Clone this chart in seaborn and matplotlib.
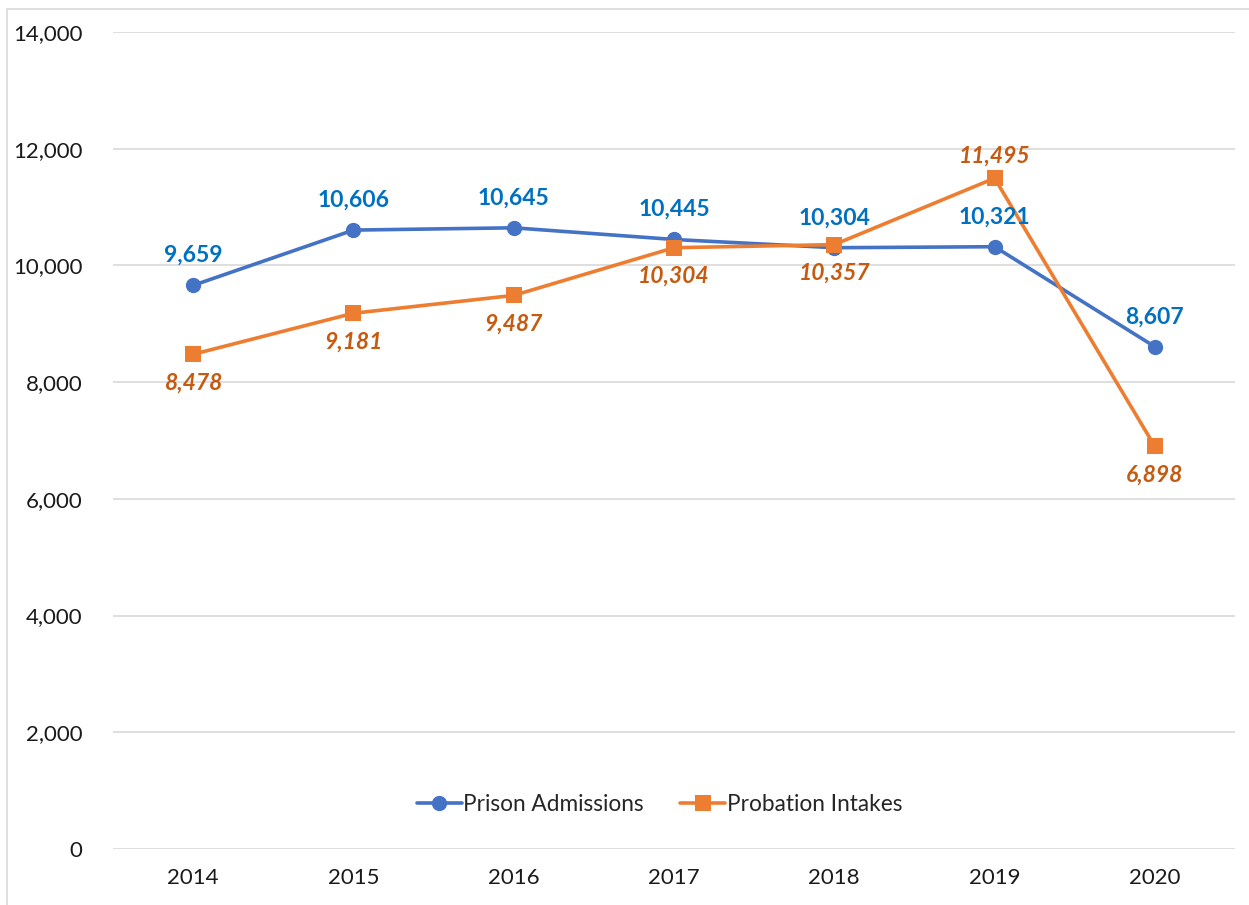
import pandas as pd
import matplotlib.pyplot as plt
import seaborn as sns
from matplotlib.patches import Rectangle
from matplotlib.ticker import FuncFormatter

# Datos
years = ['2014', '2015', '2016', '2017', '2018', '2019', '2020']
prison = [9659, 10606, 10645, 10445, 10304, 10321, 8607]
probation = [8478, 9181, 9487, 10304, 10357, 11495, 6898]
# etiquetas de probation: arriba (True) o abajo (False)
prob_label_above = [False, False, False, False, False, True, False]

df = pd.DataFrame({'year': years, 'Prison Admissions': prison, 'Probation Intakes': probation})

sns.set_theme(style="white")
plt.rcParams['font.family'] = ['Lato', 'DejaVu Sans']

blue, orange = '#4472C4', '#ED7D31'
blue_txt, orange_txt = '#0070C0', '#C55A11'

fig = plt.figure(figsize=(12.49, 9.05), dpi=100)
ax = fig.add_axes([0.0905, 0.0619, 0.8983, 0.9027])

sns.lineplot(data=df, x='year', y='Prison Admissions', ax=ax, color=blue, lw=2.6,
             marker='o', markersize=11, markeredgewidth=0, label='Prison Admissions')
sns.lineplot(data=df, x='year', y='Probation Intakes', ax=ax, color=orange, lw=2.6,
             marker='s', markersize=12, markeredgewidth=0, label='Probation Intakes')

for i, v in enumerate(prison):
    ax.annotate(f'{v:,}', (i, v), xytext=(0, 14), textcoords='offset points',
                ha='center', va='bottom', color=blue_txt, fontsize=16.5, fontweight='bold')
for i, v in enumerate(probation):
    dy = 8 if prob_label_above[i] else -13
    ax.annotate(f'{v:,}', (i, v), xytext=(0, dy), textcoords='offset points',
                ha='center', va='bottom' if prob_label_above[i] else 'top',
                color=orange_txt, fontsize=16.5, fontweight='bold', style='italic')

ax.set_xlim(-0.5, 6.5)
ax.set_ylim(0, 14000)
ax.set_yticks(range(0, 14001, 2000))
ax.yaxis.set_major_formatter(FuncFormatter(lambda v, p: f'{int(v):,}'))
ax.grid(axis='y', color='#D9D9D9', lw=1.2)
ax.set_axisbelow(True)
for s in ax.spines.values():
    s.set_visible(False)
ax.tick_params(axis='both', length=0, labelsize=16, colors='#1a1a1a')
ax.tick_params(axis='y', pad=22)
ax.tick_params(axis='x', pad=14)
ax.set_xlabel('')
ax.set_ylabel('')

ax.legend(loc='center', bbox_to_anchor=(0.487, 0.055), ncol=2, frameon=False,
          fontsize=16.3, handlelength=2.0, handletextpad=0.05, columnspacing=1.6,
          borderaxespad=0)

# borde del gráfico
fig.patches.append(Rectangle((7 / 1249, -0.1), 1.2, 1 - 9 / 905 + 0.1,
                             transform=fig.transFigure, fill=False,
                             edgecolor='#D9D9D9', lw=1.2))

fig.savefig('out.png', dpi=100)
